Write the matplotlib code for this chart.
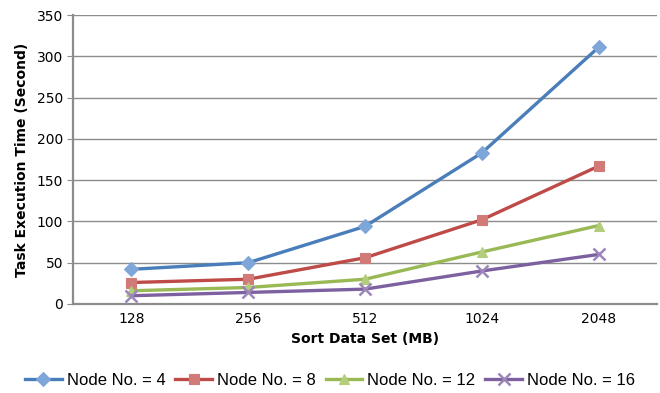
import matplotlib.pyplot as plt

# Sort job execution time per data set size, one series per cluster size
sizes = ["128", "256", "512", "1024", "2048"]
node4 = [42, 50, 94, 183, 311]
node8 = [26, 30, 56, 102, 167]
node12 = [16, 20, 30, 63, 95]
node16 = [10, 14, 18, 40, 60]

series = [
    ("Node No. = 4", node4, "#4a7ebb", "#7fa6d8", "D"),
    ("Node No. = 8", node8, "#be4b48", "#d27a78", "s"),
    ("Node No. = 12", node12, "#98b954", "#b3cd7c", "^"),
    ("Node No. = 16", node16, "#7d60a0", "#9c86ba", "x"),
]

fig = plt.figure(figsize=(6.6, 3.93), dpi=100)
ax = fig.add_axes([0.1106, 0.2265, 0.885, 0.7353])

x = range(len(sizes))
for label, vals, col, mcol, mk in series:
    ax.plot(x, vals, color=col, lw=2.4, marker=mk, markersize=7 if mk != "x" else 8,
            markerfacecolor=mcol, markeredgecolor=mcol, markeredgewidth=1.8 if mk == "x" else 0.8,
            label=label, zorder=3)

ax.set_xlim(-0.5, len(sizes) - 0.5)
ax.set_ylim(0, 350)
ax.set_yticks(range(0, 351, 50))
ax.set_xticks(list(x))
ax.set_xticklabels(sizes)
ax.yaxis.grid(True, color="#8c8c8c", lw=1)
ax.set_axisbelow(True)

for side in ("top", "right"):
    ax.spines[side].set_visible(False)
for side in ("left", "bottom"):
    ax.spines[side].set_color("#8c8c8c")
    ax.spines[side].set_linewidth(1.6)

ax.tick_params(axis="y", length=4, color="#8c8c8c", labelsize=10, pad=3)
ax.tick_params(axis="x", length=0, labelsize=10, pad=6)

ax.set_xlabel("Sort Data Set (MB)", fontsize=10, fontweight="bold", labelpad=4)
ax.set_ylabel("Task Execution Time (Second)", fontsize=10, fontweight="bold", labelpad=6)

fig.legend(loc="center", bbox_to_anchor=(0.5, 0.033), ncol=4, frameon=False,
           prop={"family": "Liberation Sans", "size": 12},
           handlelength=2.2, handletextpad=0.3, columnspacing=0.6)

fig.savefig("out.png", dpi=100)
